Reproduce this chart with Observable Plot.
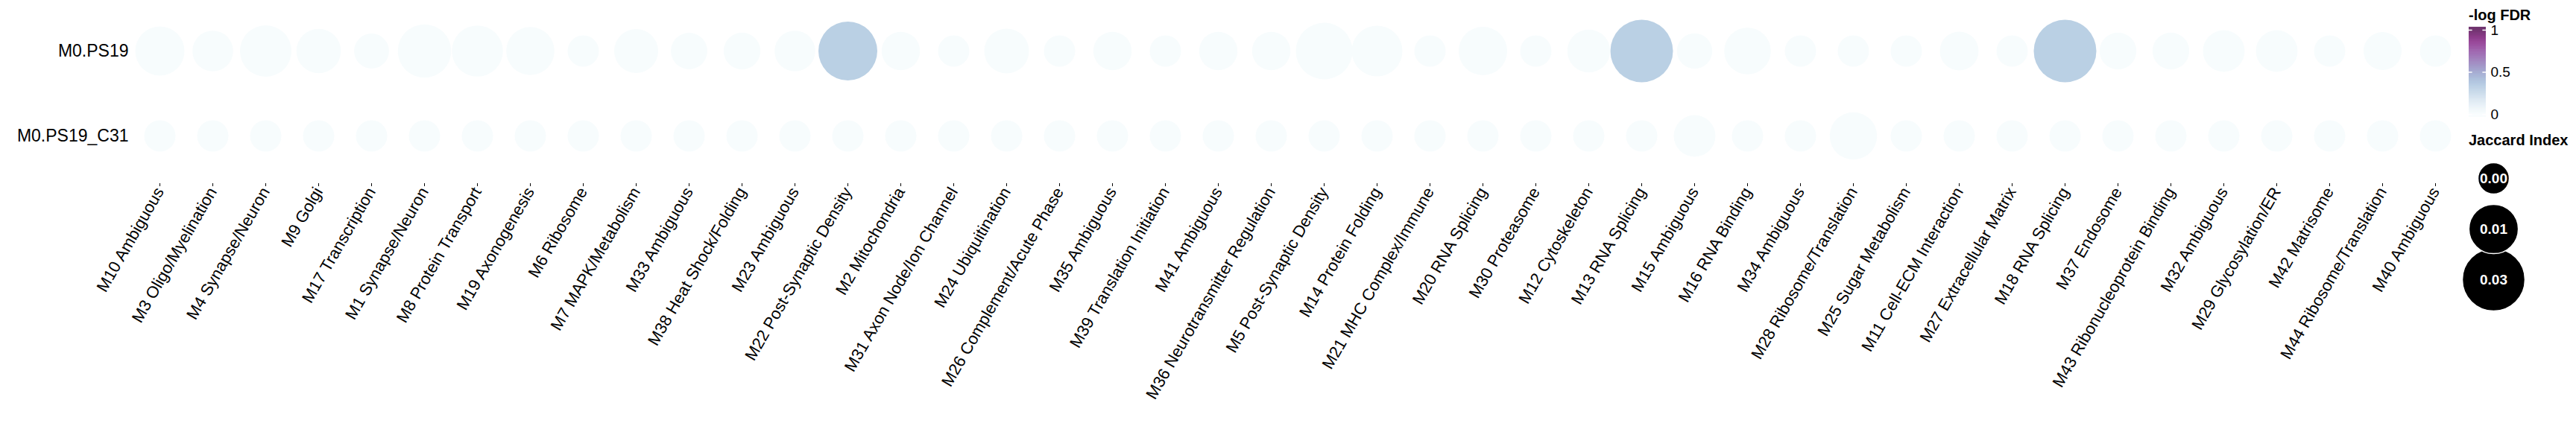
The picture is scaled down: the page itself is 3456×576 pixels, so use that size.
<!DOCTYPE html>
<html>
<head>
<meta charset="utf-8">
<script src="https://cdn.jsdelivr.net/npm/d3@7"></script>
<script src="https://cdn.jsdelivr.net/npm/@observablehq/plot@0.6"></script>
<style>
  body { margin: 0; background: white; font-family: "Liberation Sans", Arial, sans-serif; }
  #chart { position: relative; width: 3456px; height: 576px; overflow: hidden; }
  #chart > * { position: absolute; }
  .legend-title { font-weight: bold; font-size: 20px; line-height: 20px; color: #000; white-space: nowrap; }
</style>
</head>
<body>
<div id="chart"></div>
<script>
const modules = [
  "M10 Ambiguous", "M3 Oligo/Myelination", "M4 Synapse/Neuron", "M9 Golgi",
  "M17 Transcription", "M1 Synapse/Neuron", "M8 Protein Transport", "M19 Axonogenesis",
  "M6 Ribosome", "M7 MAPK/Metabolism", "M33 Ambiguous", "M38 Heat Shock/Folding",
  "M23 Ambiguous", "M22 Post-Synaptic Density", "M2 Mitochondria", "M31 Axon Node/Ion Channel",
  "M24 Ubiquitination", "M26 Complement/Acute Phase", "M35 Ambiguous", "M39 Translation Initiation",
  "M41 Ambiguous", "M36 Neurotransmitter Regulation", "M5 Post-Synaptic Density", "M14 Protein Folding",
  "M21 MHC Complex/Immune", "M20 RNA Splicing", "M30 Proteasome", "M12 Cytoskeleton",
  "M13 RNA Splicing", "M15 Ambiguous", "M16 RNA Binding", "M34 Ambiguous",
  "M28 Ribosome/Translation", "M25 Sugar Metabolism", "M11 Cell-ECM Interaction", "M27 Extracellular Matrix",
  "M18 RNA Splicing", "M37 Endosome", "M43 Ribonucleoprotein Binding", "M32 Ambiguous",
  "M29 Glycosylation/ER", "M42 Matrisome", "M44 Ribosome/Translation", "M40 Ambiguous"
];
const sets = ["M0.PS19", "M0.PS19_C31"];

// Jaccard index, one value per module
const jaccardPS19 = [
  0.0098, 0.0027, 0.0124, 0.0053, 0.0004, 0.0149, 0.0120, 0.0087, 0.0000, 0.0049, 0.0008,
  0.0009, 0.0027, 0.0233, 0.0015, 0.0000, 0.0055, 0.0000, 0.0015, 0.0000, 0.0015, 0.0015,
  0.0197, 0.0115, 0.0000, 0.0090, 0.0000, 0.0041, 0.0300, 0.0005, 0.0072, 0.0000, 0.0000,
  0.0000, 0.0017, 0.0000, 0.0300, 0.0009, 0.0009, 0.0033, 0.0033, 0.0000, 0.0014, 0.0000
];
const jaccardC31 = [
  0, 0, 0, 0, 0, 0, 0, 0, 0, 0, 0,
  0, 0, 0, 0, 0, 0, 0, 0, 0, 0, 0,
  0, 0, 0, 0, 0, 0, 0, 0.0033, 0, 0, 0.0078,
  0, 0, 0, 0, 0, 0, 0, 0, 0, 0, 0
];
// -log FDR, one value per module
const fdrPS19 = [
  0, 0, 0, 0, 0, 0, 0, 0, 0, 0, 0,
  0, 0, 0.27, 0, 0, 0, 0, 0, 0, 0, 0,
  0, 0, 0, 0, 0, 0, 0.27, 0, 0, 0, 0,
  0, 0, 0, 0.27, 0, 0, 0, 0, 0, 0, 0
];
const fdrC31 = [
  0, 0, 0, 0, 0, 0, 0, 0, 0, 0, 0,
  0, 0, 0, 0, 0, 0, 0, 0, 0, 0, 0,
  0, 0, 0, 0, 0, 0, 0, 0, 0, 0, 0,
  0, 0, 0, 0, 0, 0, 0, 0, 0, 0, 0
];
const fdrTicks = [0, 0.5, 1];
const sizeBreaks = [0, 0.01, 0.03];

const font = "Liberation Sans, Arial, sans-serif";
const rScale = {domain: [0, 0.03], range: [21, 42]};
const colorScale = {type: "linear", scheme: "BuPu", domain: [0, 1], clamp: true};

const jaccard = [jaccardPS19, jaccardC31];
const fdr = [fdrPS19, fdrC31];
const rows = [];
sets.forEach((set, i) => {
  modules.forEach((m, j) => {
    rows.push({set, module: m, jaccard: jaccard[i][j], fdr: fdr[i][j]});
  });
});

const chart = document.getElementById("chart");

//Main dot grid
const main = Plot.plot({
  width: 3456,
  height: 576,
  marginLeft: 178,
  marginRight: 154,
  marginTop: 4,
  marginBottom: 330,
  style: {fontFamily: font, fontSize: "23px", color: "black", background: "white"},
  x: {type: "point", domain: modules, padding: 0.5, label: null},
  y: {type: "point", domain: sets, padding: 0.56, label: null},
  r: rScale,
  color: colorScale,
  marks: [
    Plot.axisY({tickSize: 0, tickPadding: 6, label: null, fontSize: 23}),
    Plot.axisX({tickRotate: -60, tickSize: 4, tickPadding: 3, label: null, fontSize: 22}),
    Plot.dot(rows, {x: "module", y: "set", r: "jaccard", fill: "fdr"})
  ]
});
main.style.left = "0px";
main.style.top = "0px";
chart.appendChild(main);

//Colour bar legend
const ramp = d3.range(-0.035, 1.035, 0.005);
const colorBar = Plot.plot({
  width: 80,
  height: 121,
  marginTop: 0,
  marginBottom: 0,
  marginLeft: 0,
  marginRight: 57,
  style: {fontFamily: font, fontSize: "19px", color: "black", background: "transparent", overflow: "visible"},
  x: {domain: [0, 1], axis: null},
  y: {domain: [-0.035, 1.035], axis: null},
  color: colorScale,
  marks: [
    Plot.rect(ramp, {x1: 0, x2: 1, y1: (d) => d, y2: (d) => d + 0.0056, fill: (d) => d}),
    Plot.ruleY(fdrTicks, {x1: 0, x2: 0.2, stroke: "white", strokeWidth: 1.5}),
    Plot.ruleY(fdrTicks, {x1: 0.8, x2: 1, stroke: "white", strokeWidth: 1.5}),
    Plot.axisY({anchor: "right", ticks: fdrTicks, tickSize: 0, tickPadding: 6, fontSize: 19, tickFormat: (d) => String(d), label: null})
  ]
});
colorBar.style.left = "3312px";
colorBar.style.top = "36px";
chart.appendChild(colorBar);

//Size legend
const sizeLegend = Plot.plot({
  width: 90,
  height: 206,
  margin: 0,
  style: {fontFamily: font, background: "transparent", overflow: "visible"},
  y: {type: "point", domain: sizeBreaks, padding: 0.5, axis: null},
  r: rScale,
  marks: [
    Plot.dot(sizeBreaks, {y: (d) => d, r: (d) => d, fill: "black", stroke: "white", strokeWidth: 1.5}),
    Plot.text(sizeBreaks, {y: (d) => d, text: (d) => d.toFixed(2), fill: "white", fontWeight: "bold", fontSize: 19})
  ]
});
sizeLegend.style.left = "3300px";
sizeLegend.style.top = "204px";
chart.appendChild(sizeLegend);

//Legend titles
const addTitle = (text, left, top) => {
  const el = document.createElement("div");
  el.className = "legend-title";
  el.innerText = text;
  el.style.left = left + "px";
  el.style.top = top + "px";
  chart.appendChild(el);
};
addTitle("-log FDR", 3312, 10);
addTitle("Jaccard Index", 3312, 178);
</script>
</body>
</html>
